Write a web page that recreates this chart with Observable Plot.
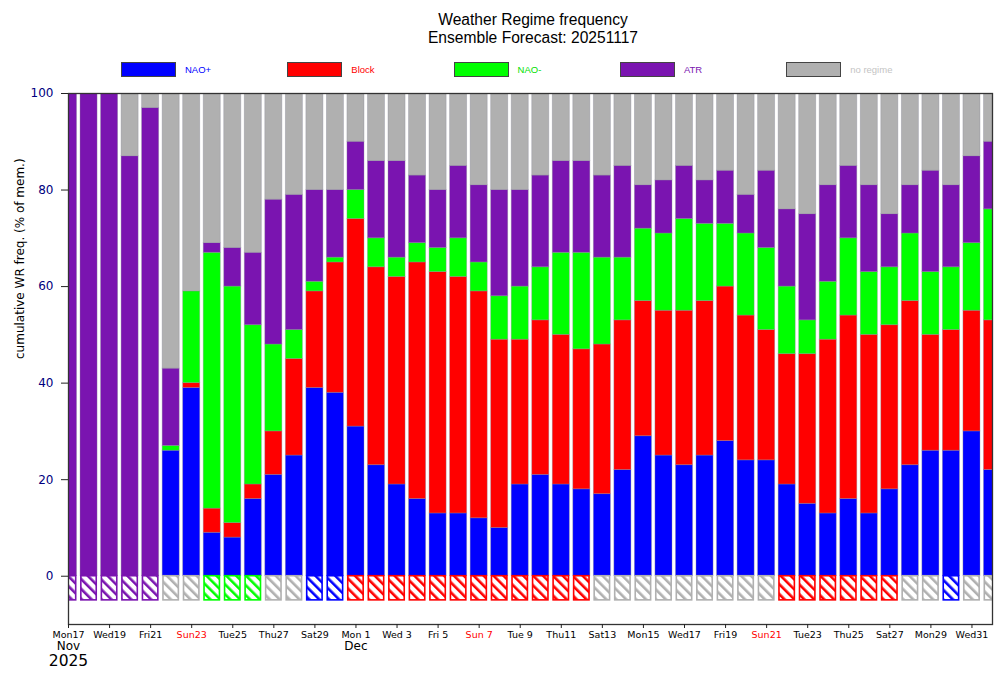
<!DOCTYPE html>
<html>
<head>
<meta charset="utf-8">
<script src="https://cdn.jsdelivr.net/npm/d3@7"></script>
<script src="https://cdn.jsdelivr.net/npm/@observablehq/plot@0.6"></script>
<style>
  body { margin: 0; background: #fff; }
  #wrap { position: relative; width: 1007px; height: 684px; overflow: hidden; }
  #head { position: relative; width: 1007px; height: 84px; font-family: "Liberation Sans", Arial, sans-serif; }
  #title { position: absolute; left: 68px; width: 930px; top: 11px; text-align: center; font-size: 15.6px; line-height: 18px; color: #000; }
  .lg { position: absolute; top: 62px; height: 15px; }
  .lg .box { position: absolute; left: 0; top: 0; width: 53px; height: 13px; border: 1px solid #444; }
  .lg .lab { position: absolute; left: 64px; top: 0; font-size: 9.5px; line-height: 15px; white-space: nowrap; }
  #chart svg { display: block; }
</style>
</head>
<body>
<div id="wrap">
  <div id="head">
    <div id="title">Weather Regime frequency<br>Ensemble Forecast: 20251117</div>
    <div id="legend"></div>
  </div>
  <div id="chart"></div>
</div>
<script>
// ---------- data ----------
const regimes = ["NAO+", "Block", "NAO-", "ATR", "no regime"];
const regimeColors = ["#0000ff", "#ff0000", "#00ff00", "#7a14b0", "#b0b0b0"];
const legendTextColors = ["#0000ff", "#ff0000", "#00e000", "#7a14b0", "#c4c4c4"];
const firstDay = "2025-11-17";   // one bar per day, Nov 17 .. Jan 1

// percentage of members per regime (per day)
const naoPlus  = [0,0,0,0,0,26,39,9,8,16,21,25,39,38,31,23,19,16,13,13,12,10,19,21,19,18,17,22,29,25,23,25,28,24,24,19,15,13,16,13,18,23,26,26,30,22];
const block    = [0,0,0,0,0,0,1,5,3,3,9,20,20,27,43,41,43,49,50,49,47,39,30,32,31,29,31,31,28,30,32,32,32,30,27,27,31,36,38,37,34,34,24,25,25,31];
const naoMinus = [0,0,0,0,0,1,19,53,49,33,18,6,2,1,6,6,4,4,5,8,6,9,11,11,17,20,18,13,15,16,19,16,13,17,17,14,7,12,16,13,12,14,13,13,14,23];
const atr      = [100,100,100,87,97,16,0,2,8,15,30,28,19,14,10,16,20,14,12,15,16,22,20,19,19,19,17,19,9,11,11,9,11,8,16,16,22,20,15,18,11,10,21,17,18,14];
const noRegime = [0,0,0,13,3,57,41,31,32,33,22,21,20,20,10,14,14,17,20,15,19,20,20,17,14,14,17,15,19,18,15,18,16,21,16,24,25,19,15,19,25,19,16,19,13,10];

// regime shown in the hatched band below zero
const dominant = ["ATR","ATR","ATR","ATR","ATR","no regime","no regime","NAO-","NAO-","NAO-","no regime","no regime","NAO+","NAO+",
  "Block","Block","Block","Block","Block","Block","Block","Block","Block","Block","Block","Block",
  "no regime","no regime","no regime","no regime","no regime","no regime","no regime","no regime","no regime",
  "Block","Block","Block","Block","Block","Block","no regime","no regime","NAO+","no regime","no regime"];

const yTicks = [0, 20, 40, 60, 80, 100];
const xTickDays = ["2025-11-17","2025-11-19","2025-11-21","2025-11-23","2025-11-25","2025-11-27","2025-11-29",
  "2025-12-01","2025-12-03","2025-12-05","2025-12-07","2025-12-09","2025-12-11","2025-12-13","2025-12-15",
  "2025-12-17","2025-12-19","2025-12-21","2025-12-23","2025-12-25","2025-12-27","2025-12-29","2025-12-31"];
const monthLabels = [{day: "2025-11-17", text: "Nov"}, {day: "2025-12-01", text: "Dec"}];
const yearLabels = [{day: "2025-11-17", text: "2025"}];
const yLabel = "cumulative WR freq. (% of mem.)";
const hatchBand = [-5, 0];
const yDomain = [-10, 100];

// ---------- build tables ----------
const series = [naoPlus, block, naoMinus, atr, noRegime];
const parse = d3.utcParse("%Y-%m-%d");
const start = parse(firstDay);
const days = naoPlus.map((_, i) => d3.utcDay.offset(start, i));
const DAY = 864e5, HALF = 0.415 * DAY;

const stacked = [];
days.forEach((d, i) => {
  let acc = 0;
  regimes.forEach((r, k) => {
    const v = series[k][i];
    stacked.push({date: d, regime: r, y1: acc, y2: acc + v});
    acc += v;
  });
});
const hatchRows = days.map((d, i) => ({date: d, regime: dominant[i], y1: hatchBand[0], y2: hatchBand[1]}));
const ticks = xTickDays.map(parse);
const weekdayTicks = ticks.filter(d => d.getUTCDay() !== 0);
const sundayTicks = ticks.filter(d => d.getUTCDay() === 0);
const bx1 = d => new Date(+d.date - HALF);
const bx2 = d => new Date(+d.date + HALF);

// ---------- legend ----------
const legend = document.getElementById("legend");
regimes.forEach((r, k) => {
  const g = document.createElement("div");
  g.className = "lg";
  g.style.left = (121 + k * 166.3) + "px";
  g.innerHTML = `<div class="box" style="background:${regimeColors[k]}"></div><div class="lab" style="color:${legendTextColors[k]}">${r}</div>`;
  legend.appendChild(g);
});

// ---------- chart ----------
const chart = Plot.plot({
  width: 1007,
  height: 600,
  marginTop: 9,
  marginBottom: 60,
  marginLeft: 68,
  marginRight: 15,
  style: {fontFamily: "DejaVu Sans, sans-serif", background: "white", overflow: "visible"},
  x: {type: "utc", domain: [days[0], days[days.length - 1]]},
  y: {domain: yDomain},
  color: {domain: regimes, range: regimeColors},
  marks: [
    Plot.rect(stacked, {x1: bx1, x2: bx2, y1: "y1", y2: "y2", fill: "regime", stroke: "#8a8a9a", strokeOpacity: 0.45, strokeWidth: 0.8, clip: true}),
    ...regimes.map((r, k) => Plot.rect(hatchRows.filter(h => h.regime === r), {
      x1: d => new Date(+d.date - HALF + 0.04 * DAY), x2: d => new Date(+d.date + HALF - 0.04 * DAY),
      y1: "y1", y2: "y2", fill: `url(#hatch${k})`, stroke: regimeColors[k], strokeWidth: 1.6, clip: true
    })),
    Plot.frame({stroke: "#333", strokeWidth: 1.3}),
    Plot.axisY({ticks: yTicks, tickSize: 7, tickPadding: 8, fontSize: 12, fill: "#000080", stroke: "#222", label: null}),
    Plot.axisX({ticks: weekdayTicks, tickFormat: "%a%e", tickSize: 4, tickPadding: 3, fontSize: 9.5, fill: "#000", stroke: "#222", label: null}),
    Plot.axisX({ticks: sundayTicks, tickFormat: "%a%e", tickSize: 4, tickPadding: 3, fontSize: 9.5, fill: "#ff0000", stroke: "#222", label: null}),
    Plot.text(monthLabels, {x: d => parse(d.day), text: "text", frameAnchor: "bottom", dy: 25.5, fontSize: 12, fill: "#000"}),
    Plot.text(yearLabels, {x: d => parse(d.day), text: "text", frameAnchor: "bottom", dy: 41, fontSize: 15.5, fill: "#000"}),
    Plot.text([yLabel], {text: d => d, frameAnchor: "left", rotate: -90, dx: -48, fontSize: 12, fill: "#000"})
  ]
});

// hatch patterns
const ns = "http://www.w3.org/2000/svg";
const defs = document.createElementNS(ns, "defs");
regimeColors.forEach((c, k) => {
  const p = document.createElementNS(ns, "pattern");
  p.setAttribute("id", "hatch" + k);
  p.setAttribute("patternUnits", "userSpaceOnUse");
  p.setAttribute("width", "7");
  p.setAttribute("height", "7");
  p.setAttribute("patternTransform", "rotate(-45)");
  const bg = document.createElementNS(ns, "rect");
  bg.setAttribute("width", "7"); bg.setAttribute("height", "7"); bg.setAttribute("fill", "#fff");
  const s = document.createElementNS(ns, "rect");
  s.setAttribute("width", "2.6"); s.setAttribute("height", "7"); s.setAttribute("fill", c);
  p.appendChild(bg); p.appendChild(s);
  defs.appendChild(p);
});
chart.insertBefore(defs, chart.firstChild);
document.getElementById("chart").appendChild(chart);
</script>
</body>
</html>
